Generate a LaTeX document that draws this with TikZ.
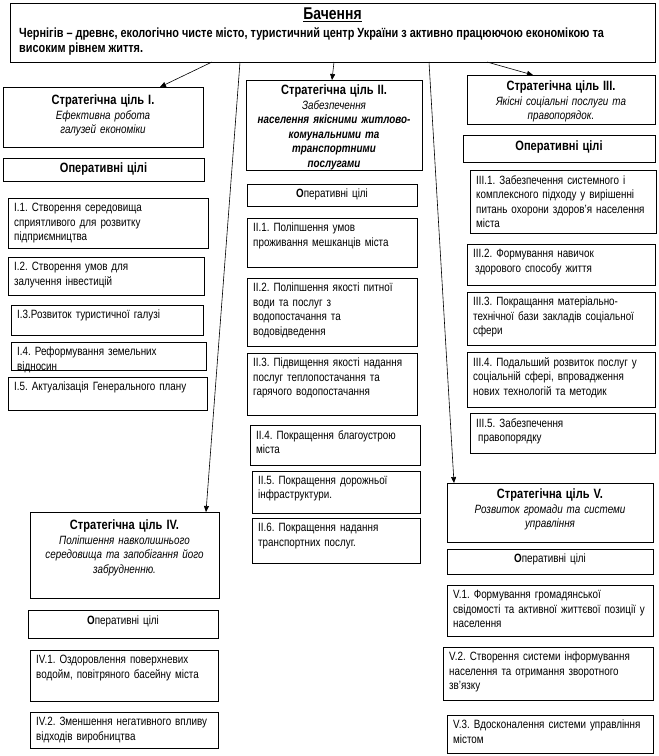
\documentclass[tikz,border=0pt]{standalone}
\usepackage{fontspec}
\setmainfont[FakeStretch=0.82]{Liberation Sans}
\usetikzlibrary{arrows.meta,fit,calc}
\frenchspacing
\newcommand\bodyf{\fontsize{12}{14.5}\selectfont}
\newcommand\titf{\fontsize{13.5}{15}\selectfont\bfseries\upshape}
\tikzset{
  bx/.style={draw=black,line width=0.8pt,inner sep=0pt,outer sep=0pt},
  lt/.style={anchor=north west,inner sep=0pt,align=left,font=\bodyf},
  ct/.style={anchor=north,inner sep=0pt,align=center,font=\bodyf\itshape},
  conn/.style={draw=black,line width=0.6pt,-{Triangle[length=6pt,width=5pt]}}
}
% left-aligned text box: name, x1, y1, x2, y2, text
\newcommand\lbx[6]{%
  \pgfmathsetmacro\tw{#4-#2-8}%
  \node[bx,fit={(#2,#3)(#4,#5)}] (#1) {};
  \node[lt,text width=\tw pt] (#1t) at ([xshift=6pt,yshift=-5pt]#1.north west) {#6};
}
% centred text box: name, x1, y1, x2, y2, yshift, text
\newcommand\cbx[7]{%
  \pgfmathsetmacro\tw{#4-#2-8}%
  \node[bx,fit={(#2,#3)(#4,#5)}] (#1) {};
  \node[ct,text width=\tw pt] (#1t) at ([yshift=-#6pt]#1.north) {#7};
}
\begin{document}
\begin{tikzpicture}[x=1pt,y=-1pt]
\useasboundingbox[fill=white] (0,0) rectangle (659,756);

% top box
\node[bx,fit={(10,3)(655,62)}] (top) {};
\node[anchor=north,inner sep=0pt,font=\fontsize{17}{19}\selectfont\bfseries] (toph) at ([yshift=-5pt]top.north) {\underline{Бачення}};
\node[anchor=north west,inner sep=0pt,align=left,font=\fontsize{13.3}{15}\selectfont\bfseries] (topt) at ([xshift=9pt,yshift=-24pt]top.north west)
  {Чернігів – древнє, екологічно чисте місто, туристичний центр України з активно працюючою економікою та\\високим рівнем життя.};

% column I
\cbx{g1}{3}{87}{203}{147}{8}{{\titf Стратегічна ціль I.}\\Ефективна робота\\галузей економіки}
\cbx{o1}{3}{158}{204}{181}{5}{{\titf Оперативні цілі}}
\lbx{i1}{8}{198}{208}{248}{I.1. Створення середовища\\сприятливого для розвитку\\підприємництва}
\lbx{i2}{8}{257}{204}{295}{I.2. Створення умов для\\залучення інвестицій}
\lbx{i3}{11}{305}{203}{335}{I.3.Розвиток туристичної галузі}
\lbx{i4}{11}{342}{206}{370}{I.4. Реформування земельних\\відносин}
\lbx{i5}{8}{377}{207}{410}{I.5. Актуалізація Генерального плану}

% column II
\cbx{g2}{246}{80}{422}{170}{5}{{\titf Стратегічна ціль II.}\\Забезпечення\\{\bfseries населення якісними житлово-\\комунальними та\\транспортними\\послугами}}
\cbx{o2}{247}{184}{417}{206}{5}{{\upshape\textbf{О}перативні цілі}}
\lbx{ii1}{247}{218}{417}{267}{II.1. Поліпшення умов\\проживання мешканців міста}
\lbx{ii2}{247}{278}{417}{346}{II.2. Поліпшення якості питної\\води та послуг з\\водопостачання та\\водовідведення}
\lbx{ii3}{247}{353}{417}{415}{II.3. Підвищення якості надання\\послуг теплопостачання та\\гарячого водопостачання}
\lbx{ii4}{250}{425}{420}{465}{II.4. Покращення благоустрою\\міста}
\lbx{ii5}{252}{471}{420}{513}{II.5. Покращення дорожньої\\інфраструктури.}
\lbx{ii6}{252}{518}{420}{563}{II.6. Покращення надання\\транспортних послуг.}

% column III
\cbx{g3}{467}{75}{655}{124}{6}{{\titf Стратегічна ціль III.}\\Якісні соціальні послуги та\\правопорядок.}
\cbx{o3}{463}{135}{655}{162}{6}{{\titf Оперативні цілі}}
\lbx{iii1}{470}{170}{656}{233}{III.1. Забезпечення системного і\\комплексного підходу у вирішенні\\питань охорони здоров'я населення\\міста}
\lbx{iii2}{467}{244}{655}{285}{III.2. Формування навичок\\\hspace*{2pt}здорового способу життя}
\lbx{iii3}{467}{292}{655}{345}{III.3. Покращання матеріально-\\технічної бази закладів соціальної\\сфери}
\lbx{iii4}{467}{352}{655}{407}{III.4. Подальший розвиток послуг у\\соціальній сфері, впровадження\\нових технологій та методик}
\lbx{iii5}{470}{413}{655}{453}{III.5. Забезпечення\\\hspace*{2pt}правопорядку}

% column IV
\cbx{g4}{30}{512}{219}{598}{8}{{\titf Стратегічна ціль IV.}\\Поліпшення навколишнього\\середовища та запобігання його\\забрудненню.}
\cbx{o4}{28}{610}{218}{638}{6}{{\upshape\textbf{О}перативні цілі}}
\lbx{iv1}{30}{650}{218}{701}{IV.1. Оздоровлення поверхневих\\водойм, повітряного басейну міста}
\lbx{iv2}{30}{712}{218}{748}{IV.2. Зменшення негативного впливу\\відходів виробництва}

% column V
\cbx{g5}{447}{483}{653}{542}{6}{{\titf Стратегічна ціль V.}\\Розвиток громади та системи\\управління}
\cbx{o5}{447}{549}{653}{574}{5}{{\upshape\textbf{О}перативні цілі}}
\lbx{v1}{447}{585}{653}{636}{V.1. Формування громадянської\\свідомості та активної життєвої позиції у\\населення}
\lbx{v2}{443}{647}{653}{700}{V.2. Створення системи інформування\\населення та отримання зворотного\\зв'язку}
\lbx{v3}{447}{715}{653}{753}{V.3. Вдосконалення системи управління\\містом}

% connectors
\draw[conn] ([xshift=202pt]top.south west) -- ([xshift=157pt]g1.north west);
\draw[conn] ([xshift=230pt]top.south west) -- ([xshift=176pt]g4.north west);
\draw[conn] ([xshift=324pt]top.south west) -- ([xshift=86pt]g2.north west);
\draw[conn] ([xshift=419pt]top.south west) -- ([xshift=7pt]g5.north west);
\draw[conn] ([xshift=477pt]top.south west) -- ([xshift=66pt]g3.north west);
\end{tikzpicture}
\end{document}
